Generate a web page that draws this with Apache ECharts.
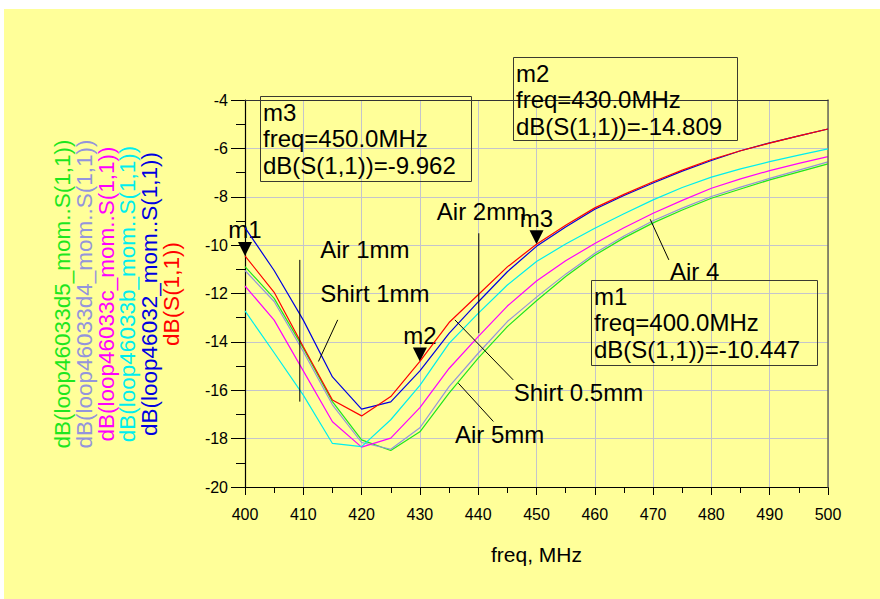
<!DOCTYPE html>
<html><head><meta charset="utf-8">
<script src="https://cdn.jsdelivr.net/npm/echarts@6/dist/echarts.min.js"></script>
<style>html,body{margin:0;padding:0;background:#fff}#c{width:880px;height:599px}</style>
</head><body><div id="c"></div>
<script>
// ---- data ----
const freqs = [400,405,410,415,420,425,430,435,440,445,450,455,460,465,470,475,480,485,490,495,500];
const sGreen   = [-10.89,-12.2,-14.26,-16.47,-18.05,-18.49,-17.72,-16.12,-14.67,-13.37,-12.3,-11.3,-10.42,-9.7,-9.08,-8.55,-8.06,-7.68,-7.3,-6.97,-6.64];
const sGray    = [-11.05,-12.33,-14.4,-16.6,-18.16,-18.44,-17.55,-15.85,-14.47,-13.16,-12.15,-11.2,-10.34,-9.62,-8.99,-8.47,-7.99,-7.6,-7.24,-6.9,-6.56];
const sMagenta = [-11.69,-13.1,-15.2,-17.3,-18.35,-17.98,-16.72,-15.1,-13.78,-12.52,-11.48,-10.65,-9.93,-9.28,-8.68,-8.15,-7.65,-7.26,-6.92,-6.62,-6.34];
const sCyan    = [-12.72,-14.45,-16.2,-18.2,-18.33,-17.22,-15.8,-14.06,-12.82,-11.65,-10.68,-9.95,-9.3,-8.7,-8.13,-7.62,-7.19,-6.85,-6.55,-6.28,-6.02];
const sBlue    = [-9.28,-11.05,-13.1,-15.45,-16.78,-16.48,-15.2,-13.65,-12.35,-11.1,-10.05,-9.25,-8.52,-7.95,-7.43,-6.94,-6.5,-6.1,-5.77,-5.48,-5.2];
const sRed     = [-10.447,-11.95,-14.2,-16.4,-17.06,-16.26,-14.809,-13.2,-12.05,-10.9,-9.962,-9.18,-8.46,-7.9,-7.38,-6.9,-6.46,-6.1,-5.78,-5.48,-5.2];
const seriesNames = ['dB(loop46033d5_mom..S(1,1))','dB(loop46033d4_mom..S(1,1))','dB(loop46033c_mom..S(1,1))','dB(loop46033b_mom..S(1,1))','dB(loop46032_mom..S(1,1))','dB(S(1,1))'];
const xTicks = {min:400, max:500, step:10};
const yTicks = {min:-20, max:-4, step:2};
const markers = [{name:'m1', freq:400}, {name:'m2', freq:430}, {name:'m3', freq:450}];
const annotationTexts = [
  {text:'Air 1mm', at:[412.9,-10.2]},
  {text:'Shirt 1mm', at:[412.9,-11.98]},
  {text:'Air 2mm', at:[432.9,-8.62]},
  {text:'Shirt 0.5mm', at:[446.1,-16.11]},
  {text:'Air 5mm', at:[436.0,-17.84]},
  {text:'Air 4', at:[472.9,-11.1]}
];
const annotationLines = [
  [[409.4,-10.61],[409.4,-16.47]],
  [[415.9,-13.09],[412.6,-14.81]],
  [[440.1,-9.51],[440.1,-13.64]],
  [[436.0,-13.09],[446.0,-15.57]],
  [[436.6,-15.71],[442.6,-17.29]],
  [[469.5,-8.93],[472.7,-10.61]]
];

// ---- styles / layout ----
const FONT = '"Liberation Sans", Arial, Helvetica, sans-serif';
const colors = ['#1ee61e','#9494dc','#ff00ff','#00eeee','#0000e0','#ff0000'];
const seriesData = [sGreen, sGray, sMagenta, sCyan, sBlue, sRed];
const markerBoxes = {m3:[260,96,211,85], m2:[513,57,224,83], m1:[591,280,226,85]};
const legendCols = [62.5,84,106,127.5,149,171];

const chart = echarts.init(document.getElementById('c'), null, {renderer:'svg'});

const axisCommon = {
  axisLine:{show:true,onZero:false,lineStyle:{color:'#000',width:1.2}},
  splitLine:{show:true,lineStyle:{color:'#c4c4cc',width:1}}
};

const series = seriesData.map((arr,i)=>({
  name: seriesNames[i], type:'line', showSymbol:false, symbol:'none',
  data: freqs.map((f,j)=>[f,arr[j]]),
  lineStyle:{color:colors[i], width:1.2}, itemStyle:{color:colors[i]},
  z: 3 + i, animation:false
}));
series[5].markPoint = {
  symbol:'triangle', symbolSize:[14,14], symbolRotate:180, symbolOffset:[0,-7],
  itemStyle:{color:'#000'},
  label:{show:true, position:'top', distance:0, formatter:p=>p.name, color:'#000', fontSize:24, fontFamily:FONT},
  data: markers.map(m=>({name:m.name, coord:[m.freq, sRed[freqs.indexOf(m.freq)]]})),
  animation:false
};

chart.setOption({
  backgroundColor:'#ffff99',
  animation:false,
  grid:{left:245, right:52, top:100, bottom:112},
  xAxis:[{
    type:'value', min:xTicks.min, max:xTicks.max, interval:xTicks.step,
    ...axisCommon,
    axisTick:{show:true,length:8,lineStyle:{color:'#000'}},
    minorTick:{show:true,splitNumber:2,length:6,lineStyle:{color:'#000'}},
    axisLabel:{fontSize:16,color:'#000',margin:19,fontFamily:FONT},
    name:'freq, MHz', nameLocation:'middle', nameGap:57,
    nameTextStyle:{fontSize:21,color:'#000',fontFamily:FONT}
  },{
    type:'value', position:'top', min:xTicks.min, max:xTicks.max, z:6,
    axisLine:{show:true,lineStyle:{color:'#333',width:1}},
    axisTick:{show:false}, axisLabel:{show:false}, splitLine:{show:false}
  }],
  yAxis:[{
    type:'value', min:yTicks.min, max:yTicks.max, interval:yTicks.step,
    ...axisCommon,
    axisTick:{show:true,length:14,lineStyle:{color:'#000'}},
    minorTick:{show:true,splitNumber:2,length:9,lineStyle:{color:'#000'}},
    axisLabel:{fontSize:16,color:'#000',margin:17,fontFamily:FONT}
  },{
    type:'value', position:'right', min:yTicks.min, max:yTicks.max, z:6,
    axisLine:{show:true,lineStyle:{color:'#6b6b50',width:1.5}},
    axisTick:{show:false}, axisLabel:{show:false}, splitLine:{show:false}
  }],
  series: series
});

// ---- graphics (legend, marker boxes, annotations) ----
const toPx = p => chart.convertToPixel({xAxisIndex:0, yAxisIndex:0}, p);
const graphics = [];
graphics.push({type:'rect', shape:{x:0,y:0,width:880,height:9}, style:{fill:'#fff'}, silent:true});
graphics.push({type:'rect', shape:{x:0,y:0,width:4,height:599}, style:{fill:'#fff'}, silent:true});

seriesNames.forEach((n,i)=>{
  graphics.push({type:'text', x:legendCols[i], y:294, rotation:Math.PI/2,
    style:{text:n, fill:colors[i], fontSize:22.5, fontFamily:FONT, align:'center', verticalAlign:'middle'}});
});

markers.forEach(m=>{
  const b = markerBoxes[m.name];
  const v = sRed[freqs.indexOf(m.freq)];
  graphics.push({type:'rect', shape:{x:b[0]+0.5,y:b[1]+0.5,width:b[2],height:b[3]},
    style:{fill:'none', stroke:'#3a3a30', lineWidth:1}, z:50});
  graphics.push({type:'text', x:b[0]+3, y:b[1]+3, z:50,
    style:{text:m.name+'\nfreq='+m.freq.toFixed(1)+'MHz\ndB(S(1,1))='+v.toFixed(3),
      fill:'#000', fontSize:24, fontFamily:FONT, lineHeight:26.5, align:'left', verticalAlign:'top'}});
});

annotationTexts.forEach(a=>{
  const p = toPx(a.at);
  graphics.push({type:'text', x:p[0], y:p[1], z:50,
    style:{text:a.text, fill:'#000', fontSize:24, fontFamily:FONT, align:'left', verticalAlign:'middle'}});
});
annotationLines.forEach(l=>{
  const p1 = toPx(l[0]), p2 = toPx(l[1]);
  graphics.push({type:'line', z:50, shape:{x1:p1[0],y1:p1[1],x2:p2[0],y2:p2[1]},
    style:{stroke:'#000', lineWidth:1}});
});

chart.setOption({graphic: graphics});
</script></body></html>
